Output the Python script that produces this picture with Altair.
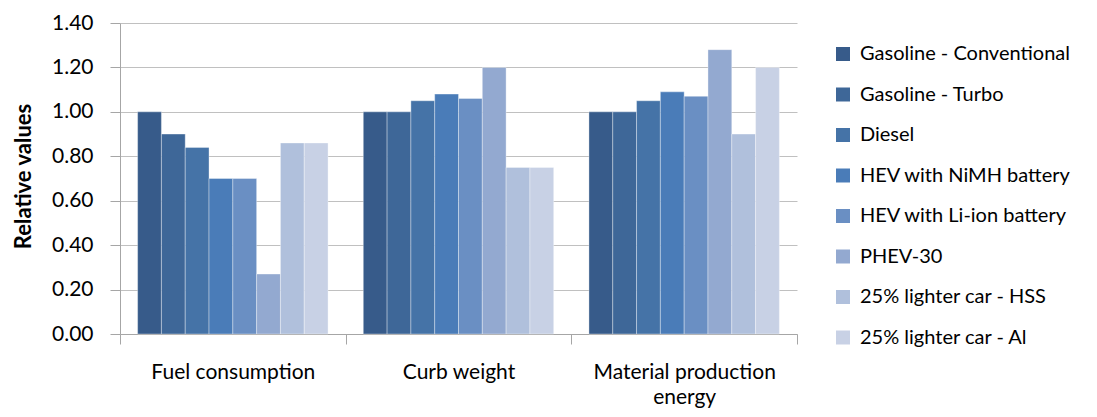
import altair as alt
import pandas as pd

categories = ["Fuel consumption", "Curb weight", "Material production energy"]
series = [
    "Gasoline - Conventional",
    "Gasoline - Turbo",
    "Diesel",
    "HEV with NiMH battery",
    "HEV with Li-ion battery",
    "PHEV-30",
    "25% lighter car - HSS",
    "25% lighter car - Al",
]
fuel_consumption = [1.00, 0.90, 0.84, 0.70, 0.70, 0.27, 0.86, 0.86]
curb_weight = [1.00, 1.00, 1.05, 1.08, 1.06, 1.20, 0.75, 0.75]
material_energy = [1.00, 1.00, 1.05, 1.09, 1.07, 1.28, 0.90, 1.20]
colors = ["#375B8A", "#3E6798", "#4573A7", "#4A7CB8", "#6A8FC3", "#93A9D0", "#B0C0DC", "#C8D1E5"]
y_ticks = [0.0, 0.2, 0.4, 0.6, 0.8, 1.0, 1.2, 1.4]

rows = []
for cat, vals in zip(categories, [fuel_consumption, curb_weight, material_energy]):
    for s, v in zip(series, vals):
        rows.append({"category": cat, "series": s, "value": v})
df = pd.DataFrame(rows)

FONT = "Lato"
GRAY = "#A6A6A6"

chart = alt.Chart(df).mark_bar(
    stroke="#FFFFFF", strokeOpacity=0.35, strokeWidth=1
).encode(
    x=alt.X(
        "category:N",
        sort=categories,
        scale=alt.Scale(paddingInner=0, paddingOuter=0),
        axis=alt.Axis(
            title=None,
            labelAngle=0,
            tickBand="extent",
            labelExpr="datum.label == 'Material production energy' ? ['Material production', 'energy'] : datum.label",
            domainColor=GRAY,
            tickColor=GRAY,
            tickSize=10,
            labelPadding=17,
            labelFontSize=21,
            labelFont=FONT,
            labelColor="#000000",
            labelLineHeight=25,
            labelBaseline="top",
            labelLimit=400,
            grid=False,
        ),
    ),
    xOffset=alt.XOffset(
        "series:N", sort=series, scale=alt.Scale(paddingInner=0, paddingOuter=0.74)
    ),
    y=alt.Y(
        "value:Q",
        scale=alt.Scale(domain=[0, 1.4], nice=False),
        axis=alt.Axis(
            values=y_ticks,
            format=".2f",
            title="Relative values",
            titleFont=FONT,
            titleFontSize=22,
            titleFontWeight="bold",
            titleColor="#000000",
            titleAngle=-90,
            titleAlign="center",
            titleBaseline="middle",
            titleX=-97,
            titleY=153,
            domainColor=GRAY,
            tickColor=GRAY,
            tickSize=10,
            labelPadding=17,
            labelFontSize=21,
            labelFont=FONT,
            labelColor="#000000",
            gridColor="#C0C0C0",
            gridWidth=1,
        ),
    ),
    color=alt.Color(
        "series:N",
        sort=series,
        scale=alt.Scale(domain=series, range=colors),
        legend=alt.Legend(
            title=None,
            orient="none",
            legendX=713,
            legendY=21,
            symbolType="square",
            symbolSize=196,
            symbolStrokeWidth=0,
            labelFont=FONT,
            labelFontSize=20,
            labelColor="#000000",
            labelOffset=7,
            labelLimit=400,
            rowPadding=20.5,
            padding=0,
        ),
    ),
).properties(
    width=677,
    height=311,
    autosize=alt.AutoSizeParams(type="none"),
    padding={"left": 112, "top": 15, "right": 292, "bottom": 80},
).configure_view(stroke=None)

chart.save("out.html", embed_options={"renderer": "svg", "actions": False})
